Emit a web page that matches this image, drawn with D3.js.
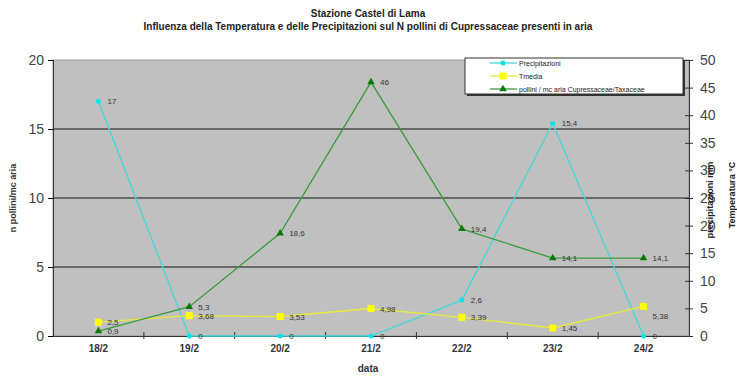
<!DOCTYPE html>
<head>
  <meta charset="utf-8">
  <script src="https://d3js.org/d3.v7.min.js"></script>
  <style>
    body { margin:0; background:#fff; }
    svg { font-family: "Liberation Sans", Arial, sans-serif; }
  </style>
</head>
<body>
  <script>
    var days = ["18/2", "19/2", "20/2", "21/2", "22/2", "23/2", "24/2"],
        precip = [17, 0, 0, 0, 2.6, 15.4, 0],
        tmedia = [2.5, 3.68, 3.53, 4.98, 3.39, 1.45, 5.38],
        pollini = [0.9, 5.3, 18.6, 46, 19.4, 14.1, 14.1],
        leftTicks = [0, 5, 10, 15, 20],
        rightTicks = [0, 5, 10, 15, 20, 25, 30, 35, 40, 45, 50];

    var W = 737, H = 377,
        pLeft = 53, pRight = 689, pTop = 60, pBottom = 336;

    var svg = d3.select("body").append("svg").attr("width", W).attr("height", H);

    var x = d3.scaleBand().domain(days).range([pLeft, pRight]),
        yL = d3.scaleLinear().domain([0, 20]).range([pBottom, pTop]),
        yR = d3.scaleLinear().domain([0, 50]).range([pBottom, pTop]);

    // plot background
    svg.append("rect").attr("x", pLeft).attr("y", pTop)
      .attr("width", pRight - pLeft).attr("height", pBottom - pTop)
      .attr("fill", "#c0c0c0").attr("stroke", "#999").attr("stroke-width", 1);

    // gridlines
    svg.selectAll(".grid").data([5, 10, 15]).enter().append("line")
      .attr("x1", pLeft).attr("x2", pRight)
      .attr("y1", function(d){ return yL(d); }).attr("y2", function(d){ return yL(d); })
      .attr("stroke", "#6a6a6a").attr("stroke-width", 2);

    // titles
    svg.append("text").attr("x", 368).attr("y", 17).attr("text-anchor", "middle")
      .attr("font-size", 10).attr("font-weight", "bold").attr("fill", "#222")
      .text("Stazione Castel di Lama");
    svg.append("text").attr("x", 368).attr("y", 30).attr("text-anchor", "middle")
      .attr("font-size", 10).attr("font-weight", "bold").attr("fill", "#222")
      .text("Influenza della Temperatura e delle Precipitazioni sul N pollini di Cupressaceae presenti in aria");

    // left axis
    var gL = svg.append("g").attr("transform", "translate(" + pLeft + ",0)")
      .call(d3.axisLeft(yL).tickValues(leftTicks).tickSize(5).tickPadding(4));
    gL.select(".domain").attr("stroke", "#333");
    gL.selectAll("text").attr("font-size", 14).attr("fill", "#444")
      .attr("font-family", "Liberation Sans, Arial, sans-serif");

    // right axis
    var gR = svg.append("g").attr("transform", "translate(" + pRight + ",0)")
      .call(d3.axisRight(yR).tickValues(rightTicks).tickSize(4).tickPadding(7));
    gR.select(".domain").attr("stroke", "#333");
    gR.selectAll(".tick line").attr("x1", -4).attr("stroke", "#333");
    gR.selectAll("text").attr("font-size", 14).attr("fill", "#444")
      .attr("font-family", "Liberation Sans, Arial, sans-serif");

    // x axis
    var gX = svg.append("g").attr("transform", "translate(0," + pBottom + ")")
      .call(d3.axisBottom(x).tickSize(0).tickPadding(9));
    gX.select(".domain").attr("stroke", "#333");
    gX.selectAll("text").attr("font-size", 10).attr("font-weight", "bold").attr("fill", "#333")
      .attr("font-family", "Liberation Sans, Arial, sans-serif");
    gX.selectAll(".sep").data(days.slice(1)).enter().append("line")
      .attr("x1", function(d){ return x(d); }).attr("x2", function(d){ return x(d); })
      .attr("y1", -4).attr("y2", 3).attr("stroke", "#333");

    // axis titles
    svg.append("text").attr("x", 368).attr("y", 372).attr("text-anchor", "middle")
      .attr("font-size", 10).attr("font-weight", "bold").attr("fill", "#333").text("data");
    svg.append("text").attr("transform", "translate(16,198) rotate(-90)").attr("text-anchor", "middle")
      .attr("font-size", 9).attr("font-weight", "bold").attr("fill", "#333").text("n pollini/mc aria");
    svg.append("text").attr("transform", "translate(713,200) rotate(-90)").attr("text-anchor", "middle")
      .attr("font-size", 9).attr("font-weight", "bold").attr("fill", "#222").text("precipitazioni mm");
    svg.append("text").attr("transform", "translate(735,195) rotate(-90)").attr("text-anchor", "middle")
      .attr("font-size", 9).attr("font-weight", "bold").attr("fill", "#222").text("Temperatura °C");

    var cx = function(d, i){ return x(days[i]) + x.bandwidth() / 2; };
    var fmt = function(v){ return String(v).replace(".", ","); };

    var series = [
      { name: "Precipitazioni", data: precip, y: yL, line: "#44d8d8", fill: "#00e5e5", shape: "circle" },
      { name: "Tmedia", data: tmedia, y: yR, line: "#e8e83a", fill: "#ffff00", shape: "square" },
      { name: "pollini  / mc aria Cupressaceae/Taxaceae", data: pollini, y: yR, line: "#3c9a3c", fill: "#007a00", shape: "triangle" }
    ];

    function marker(g, s) {
      if (s.shape === "circle") g.append("circle").attr("r", 2.5).attr("fill", s.fill);
      else if (s.shape === "square") g.append("rect").attr("x", -3.5).attr("y", -3.5).attr("width", 7).attr("height", 7).attr("fill", s.fill);
      else g.append("path").attr("d", d3.symbol().type(d3.symbolTriangle).size(24)).attr("fill", s.fill);
    }

    series.forEach(function(s) {
      var line = d3.line().x(cx).y(function(d){ return s.y(d); });
      svg.append("path").datum(s.data).attr("d", line)
        .attr("fill", "none").attr("stroke", s.line).attr("stroke-width", 1.3);
      var pts = svg.selectAll(null).data(s.data).enter().append("g")
        .attr("transform", function(d, i){ return "translate(" + cx(d, i) + "," + s.y(d) + ")"; });
      pts.each(function(){ marker(d3.select(this), s); });
      pts.append("text").attr("x", 9)
        .attr("y", function(d, i){ return (s.shape === "square" && i === s.data.length - 1) ? 13 : 3; })
        .attr("font-size", 8).attr("fill", "#333").text(function(d){ return fmt(d); });
    });

    // legend
    var lg = svg.append("g").attr("transform", "translate(465,58)");
    lg.append("rect").attr("x", 2).attr("y", 2).attr("width", 218).attr("height", 36).attr("fill", "#333");
    lg.append("rect").attr("width", 218).attr("height", 36).attr("fill", "#fff").attr("stroke", "#333");
    series.forEach(function(s, i) {
      var row = lg.append("g").attr("transform", "translate(0," + (5 + i * 13) + ")");
      row.append("line").attr("x1", 25).attr("x2", 52).attr("stroke", s.line).attr("stroke-width", 1.3);
      var m = row.append("g").attr("transform", "translate(38,0)");
      marker(m, s);
      row.append("text").attr("x", 54).attr("y", 3).attr("font-size", 7).attr("fill", "#222").text(s.name);
    });
  </script>
</body>
</html>
